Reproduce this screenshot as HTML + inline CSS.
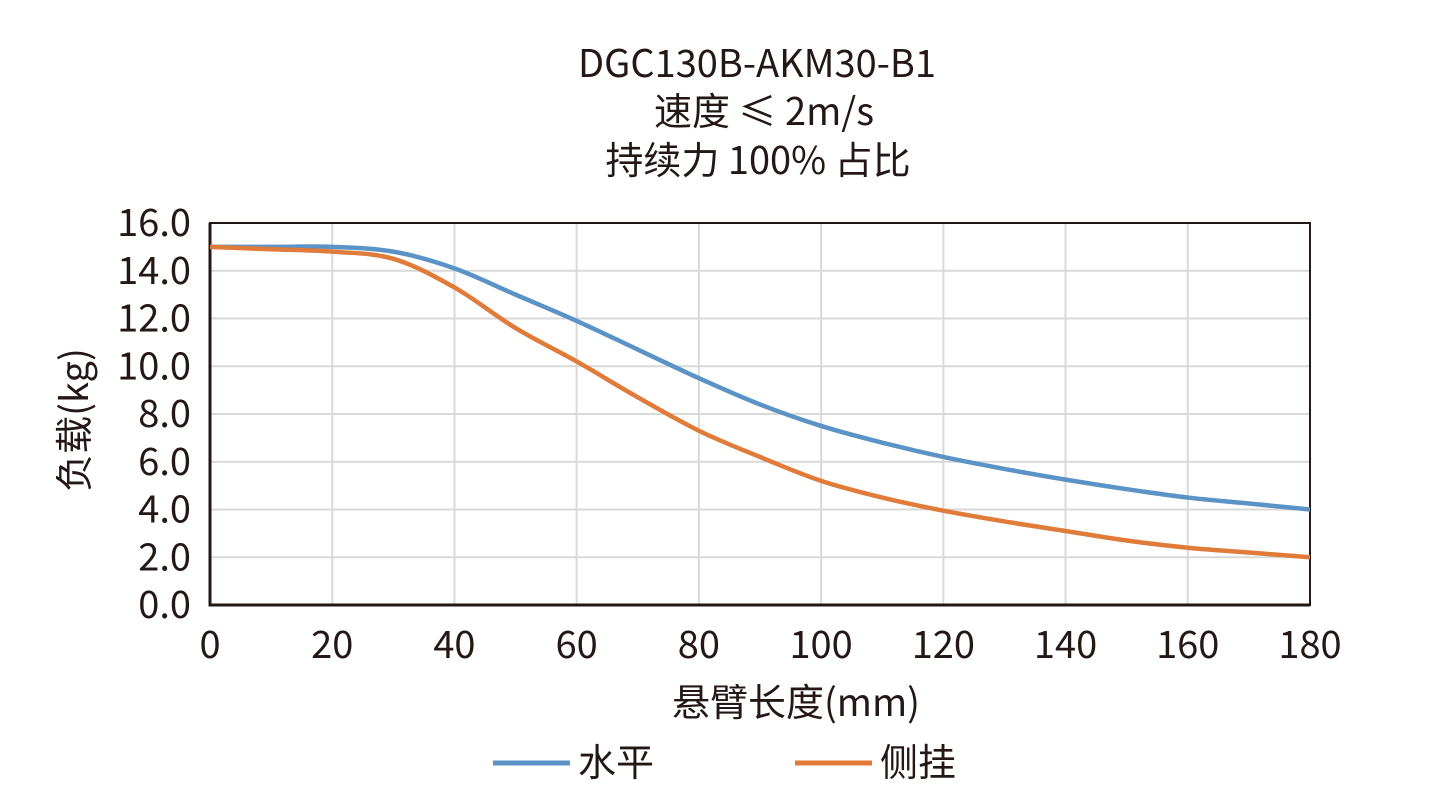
<!DOCTYPE html>
<html><head><meta charset="utf-8"><style>
body{margin:0;background:#fff;}
svg{display:block;font-family:"Liberation Sans","Noto Sans CJK SC",sans-serif;}
</style></head><body>
<svg id="chart" width="1438" height="812">
<g id="grid"></g><g id="series"></g><g id="labels"></g>
<text x="757" y="77" font-size="38" text-anchor="middle" fill="#231815" font-family="Noto Sans CJK SC, sans-serif">DGC130B-AKM30-B1</text>
<text x="764" y="125" font-size="38" text-anchor="middle" fill="#231815" font-family="Noto Sans CJK SC, sans-serif">速度 ≤ 2m/s</text>
<text x="758" y="174" font-size="38" text-anchor="middle" fill="#231815" font-family="Noto Sans CJK SC, sans-serif">持续力 100% 占比</text>
<text x="796" y="716" font-size="38" text-anchor="middle" fill="#231815" font-family="Noto Sans CJK SC, sans-serif">悬臂长度(mm)</text>
<text transform="translate(88,420) rotate(-90)" font-size="38" text-anchor="middle" fill="#231815" font-family="Noto Sans CJK SC, sans-serif">负载(kg)</text>
<g>
<line x1="493" y1="763" x2="570" y2="763" stroke="#5b93c7" stroke-width="5"/>
<text x="578" y="776" font-size="38" fill="#231815" font-family="Noto Sans CJK SC, sans-serif">水平</text>
<line x1="795" y1="763" x2="872" y2="763" stroke="#e07b39" stroke-width="5"/>
<text x="880" y="776" font-size="38" fill="#231815" font-family="Noto Sans CJK SC, sans-serif">侧挂</text>
</g>
</svg>
<script>
const xValues=[0,10,20,30,40,50,60,70,80,90,100,110,120,130,140,150,160,170,180];
const horizontal=[15.0,15.0,15.0,14.8,14.1,13.0,11.9,10.7,9.5,8.4,7.5,6.8,6.2,5.7,5.25,4.85,4.5,4.25,4.0];
const sideMount=[15.0,14.9,14.8,14.5,13.3,11.6,10.2,8.7,7.3,6.2,5.2,4.5,3.95,3.5,3.1,2.7,2.4,2.2,2.0];
const xTicks=[0,20,40,60,80,100,120,140,160,180];
const yTicks=[0,2,4,6,8,10,12,14,16];
const yTickLabels=["0.0","2.0","4.0","6.0","8.0","10.0","12.0","14.0","16.0"];
const NS="http://www.w3.org/2000/svg";
const L=210,R=1310,T=223,B=605;
const sx=v=>L+(v-0)/180*(R-L);
const sy=v=>B-v/16*(B-T);
function mk(tag,attrs,parent){const e=document.createElementNS(NS,tag);for(const k in attrs)e.setAttribute(k,attrs[k]);parent.appendChild(e);return e;}
const grid=document.getElementById('grid'),labels=document.getElementById('labels'),series=document.getElementById('series');
xTicks.forEach(t=>{
 const g=mk('line',{x1:sx(t),x2:sx(t),y1:T,y2:B,stroke:'#d9d9d9','stroke-width':2},grid);
 
 
 const tx=mk('text',{x:sx(t),y:B+53,'font-size':38,'text-anchor':'middle',fill:'#231815','font-family':'Noto Sans CJK SC, sans-serif'},labels);
 tx.textContent=t;
 
 
});
yTicks.forEach((t,i)=>{
 const g=mk('line',{x1:L,x2:R,y1:sy(t),y2:sy(t),stroke:'#d9d9d9','stroke-width':2},grid);
 
 
 const tx=mk('text',{x:L-19,y:sy(t)+13,'font-size':38,'text-anchor':'end',fill:'#231815','font-family':'Noto Sans CJK SC, sans-serif'},labels);
 tx.textContent=yTickLabels[i];
 
 
});
const frame=mk('rect',{x:L,y:T,width:R-L,height:B-T,fill:'none',stroke:'#231815','stroke-width':2},grid);


const ax=mk('path',{d:`M${L},${T}V${B}H${R}`,fill:'none',stroke:'#231815','stroke-width':3},grid);


function curve(vals){
 const p=xValues.map((x,i)=>[sx(x),sy(vals[i])]);
 let d=`M${p[0][0]},${p[0][1]}`;
 for(let i=0;i<p.length-1;i++){
  const p0=p[Math.max(i-1,0)],p1=p[i],p2=p[i+1],p3=p[Math.min(i+2,p.length-1)];
  d+=`C${p1[0]+(p2[0]-p0[0])/6},${p1[1]+(p2[1]-p0[1])/6} ${p2[0]-(p3[0]-p1[0])/6},${p2[1]-(p3[1]-p1[1])/6} ${p2[0]},${p2[1]}`;
 }
 return d;
}
const h=mk('path',{d:curve(horizontal),fill:'none',stroke:'#5b93c7','stroke-width':4.5},series);


const s=mk('path',{d:curve(sideMount),fill:'none',stroke:'#e07b39','stroke-width':4.5},series);


</script>
</body></html>
